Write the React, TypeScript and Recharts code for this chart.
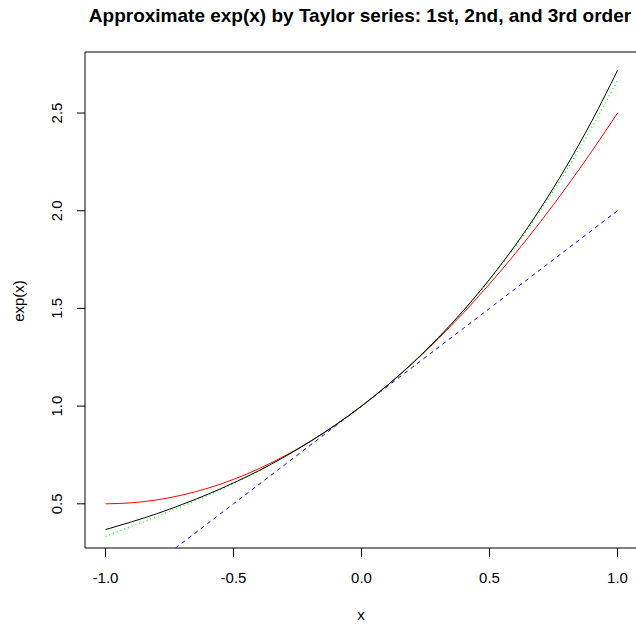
import React from "react";
import { LineChart, Line, XAxis, YAxis, ReferenceArea } from "recharts";

// Sample points on [-1, 1]
const xs = [-1.0, -0.9, -0.8, -0.7, -0.6, -0.5, -0.4, -0.3, -0.2, -0.1, 0.0, 0.1, 0.2, 0.3, 0.4, 0.5, 0.6, 0.7, 0.8, 0.9, 1.0];

// exp(x)
const expValues = [0.368, 0.407, 0.449, 0.497, 0.549, 0.607, 0.670, 0.741, 0.819, 0.905, 1.0, 1.105, 1.221, 1.350, 1.492, 1.649, 1.822, 2.014, 2.226, 2.460, 2.718];

// 1st order: 1 + x
const order1 = [0.0, 0.1, 0.2, 0.3, 0.4, 0.5, 0.6, 0.7, 0.8, 0.9, 1.0, 1.1, 1.2, 1.3, 1.4, 1.5, 1.6, 1.7, 1.8, 1.9, 2.0];

// 2nd order: 1 + x + x^2/2
const order2 = [0.5, 0.505, 0.52, 0.545, 0.58, 0.625, 0.68, 0.745, 0.82, 0.905, 1.0, 1.105, 1.22, 1.345, 1.48, 1.625, 1.78, 1.945, 2.12, 2.305, 2.5];

// 3rd order: 1 + x + x^2/2 + x^3/6
const order3 = [0.3333, 0.3835, 0.4347, 0.4878, 0.544, 0.6042, 0.6693, 0.7405, 0.8187, 0.9048, 1.0, 1.1052, 1.2213, 1.3495, 1.4907, 1.6458, 1.816, 2.0022, 2.2053, 2.4265, 2.6667];

const xTicks = [-1.0, -0.5, 0.0, 0.5, 1.0];
const yTicks = [0.5, 1.0, 1.5, 2.0, 2.5];

const xDomain: [number, number] = [-1.08, 1.08];
const yDomain: [number, number] = [0.2739, 2.8123];

const rows = xs.map((x, i) => ({
  x,
  e: expValues[i],
  t1: order1[i],
  t2: order2[i],
  t3: order3[i],
}));

const FONT = "'Liberation Sans', Arial, Helvetica, sans-serif";

const XTick = (props: any) => (
  <text x={props.x} y={583} textAnchor="middle" fontSize={15} fontFamily={FONT} fill="#000">
    {Number(props.payload.value).toFixed(1)}
  </text>
);

const YTick = (props: any) => (
  <text
    x={62}
    y={props.y}
    transform={`rotate(-90, 62, ${props.y})`}
    textAnchor="middle"
    fontSize={15}
    fontFamily={FONT}
    fill="#000"
  >
    {Number(props.payload.value).toFixed(1)}
  </text>
);

export default function App() {
  return (
    <div style={{ position: "absolute", left: 0, top: 0, width: 636, height: 626, overflow: "hidden", background: "#fff" }}>
      <LineChart
        width={638}
        height={626}
        data={rows}
        margin={{ top: 52, right: 0, bottom: 0, left: 0 }}
      >
        <XAxis
          dataKey="x"
          type="number"
          domain={xDomain}
          ticks={xTicks}
          allowDataOverflow
          axisLine={false}
          tickLine={{ stroke: "#000" }}
          tickSize={9}
          tick={XTick}
          height={78}
        />
        <YAxis
          type="number"
          domain={yDomain}
          ticks={yTicks}
          allowDataOverflow
          axisLine={false}
          tickLine={{ stroke: "#000" }}
          tickSize={8}
          tick={YTick}
          width={85}
        />
        <ReferenceArea
          x1={xDomain[0]}
          x2={xDomain[1]}
          y1={yDomain[0]}
          y2={yDomain[1]}
          fill="none"
          fillOpacity={0}
          stroke="#000"
          strokeWidth={1}
          ifOverflow="visible"
        />
        <Line dataKey="t1" type="monotone" stroke="#0000ff" strokeWidth={1} strokeDasharray="4 4" dot={false} isAnimationActive={false} />
        <Line dataKey="t2" type="monotone" stroke="#ff0000" strokeWidth={1} dot={false} isAnimationActive={false} />
        <Line dataKey="t3" type="monotone" stroke="#00ff00" strokeWidth={1.3} strokeDasharray="1 3" dot={false} isAnimationActive={false} />
        <Line dataKey="e" type="monotone" stroke="#000000" strokeWidth={1} dot={false} isAnimationActive={false} />
        <text x={360} y={22} textAnchor="middle" fontSize={19} fontWeight="bold" fontFamily={FONT} fill="#000">
          Approximate exp(x) by Taylor series: 1st, 2nd, and 3rd order
        </text>
        <text x={361} y={620} textAnchor="middle" fontSize={15} fontFamily={FONT} fill="#000">
          x
        </text>
        <text
          x={24}
          y={301}
          transform="rotate(-90, 24, 301)"
          textAnchor="middle"
          fontSize={15}
          fontFamily={FONT}
          fill="#000"
        >
          exp(x)
        </text>
      </LineChart>
    </div>
  );
}
